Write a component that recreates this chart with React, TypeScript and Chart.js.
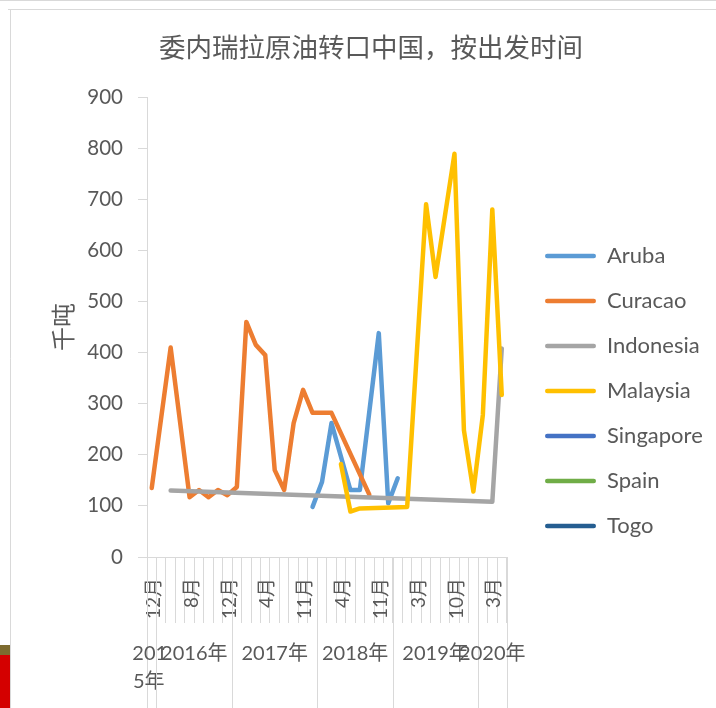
import React, { useEffect, useRef } from 'react';
import { Chart, registerables } from 'chart.js';

Chart.register(...registerables);

// ---- data ----
const months = [
  '12月',
  '4月', '6月', '7月', '8月', '9月', '10月', '11月', '12月',
  '1月', '2月', '3月', '4月', '5月', '8月', '10月', '11月', '12月',
  '2月', '3月', '4月', '6月', '7月', '9月', '11月', '12月',
  '1月', '2月', '3月', '5月', '7月', '8月', '10月', '11月', '12月',
  '2月', '3月', '4月',
];
const years = ['2015年', '2016年', '2017年', '2018年', '2019年', '2020年'];
const yearSpans = [1, 8, 9, 8, 9, 3];

const aruba = [
  null, null, null, null, null, null, null, null, null, null,
  null, null, null, null, null, null, null, 98, 147, 262,
  null, 131, 131, null, 438, 105, 154, null, null, null,
  null, null, null, null, null, null, null, null,
];
const curacao = [
  135, null, 410, null, 117, 131, 117, 131, 121, 137,
  460, 415, 395, 170, 131, 262, 327, 282, null, 282,
  null, null, null, 122, null, null, null, null, null, null,
  null, null, null, null, null, null, null, null,
];
const indonesia = [
  null, null, 130, null, null, null, null, null, null, null,
  null, null, null, null, null, null, null, null, null, null,
  null, null, null, null, null, null, null, null, null, null,
  null, null, null, null, null, null, 108, 408,
];
const malaysia = [
  null, null, null, null, null, null, null, null, null, null,
  null, null, null, null, null, null, null, null, null, null,
  182, 89, 95, null, null, null, null, 98, null, 690,
  548, null, 789, 248, 128, 278, 680, 317,
];
const singapore: (number | null)[] = [];
const spain: (number | null)[] = [];
const togo: (number | null)[] = [];

const seriesNames = ['Aruba', 'Curacao', 'Indonesia', 'Malaysia', 'Singapore', 'Spain', 'Togo'];
const seriesData = [aruba, curacao, indonesia, malaysia, singapore, spain, togo];
const seriesColors = ['#5B9BD5', '#ED7D31', '#A5A5A5', '#FFC000', '#4472C4', '#70AD47', '#255E91'];

const yMin = 0;
const yMax = 900;
const yStep = 100;

const TEXT = '#595959';
const AXIS = '#D9D9D9';
const LATIN = 'Lato, "Noto Sans CJK SC", sans-serif';
const CJK = '"Noto Sans CJK SC", sans-serif';

const LEGEND_FONT = 22;
const LEGEND_BOX = 51;
const LEGEND_PAD = 24;
const LEGEND_WIDTH = 195; // legend box left at 521 -> swatches at 545
const PLOT_LEFT = 147;
const PLOT_RIGHT = 506.5;

const decorPlugin = {
  id: 'decor',
  beforeDraw(chart: any) {
    const { ctx, width, height } = chart;
    ctx.save();
    ctx.fillStyle = '#ffffff';
    ctx.fillRect(0, 0, width, height);
    ctx.strokeStyle = AXIS;
    ctx.lineWidth = 1;
    ctx.beginPath();
    ctx.moveTo(0, 0.5);
    ctx.lineTo(width, 0.5);
    ctx.moveTo(8, 9.5);
    ctx.lineTo(width, 9.5);
    ctx.moveTo(10.5, 9.5);
    ctx.lineTo(10.5, height);
    ctx.stroke();
    ctx.fillStyle = '#7D6B2F';
    ctx.fillRect(0, 645, 10, 10);
    ctx.fillStyle = '#D40000';
    ctx.fillRect(0, 655, 10, height - 655);
    ctx.restore();
  },
};

const yearPlugin = {
  id: 'years',
  afterDraw(chart: any) {
    const { ctx, height } = chart;
    const x = chart.scales.x;
    const half = (x.getPixelForValue(1) - x.getPixelForValue(0)) / 2;
    ctx.save();
    ctx.strokeStyle = AXIS;
    ctx.lineWidth = 1;
    ctx.fillStyle = TEXT;
    ctx.font = '20px ' + LATIN;
    ctx.textAlign = 'center';
    ctx.textBaseline = 'middle';
    let start = 0;
    const top = x.top;
    yearSpans.forEach((span, k) => {
      const left = x.getPixelForValue(start) - half;
      const right = x.getPixelForValue(start + span - 1) + half;
      ctx.beginPath();
      ctx.moveTo(Math.round(left) + 0.5, top);
      ctx.lineTo(Math.round(left) + 0.5, height);
      ctx.stroke();
      if (k === yearSpans.length - 1) {
        ctx.beginPath();
        ctx.moveTo(Math.round(right) + 0.5, top);
        ctx.lineTo(Math.round(right) + 0.5, height);
        ctx.stroke();
      }
      const cx = (left + right) / 2;
      const label = years[k];
      if (span === 1) {
        ctx.fillText(label.slice(0, 3), cx - 2, 654);
        ctx.fillText(label.slice(3), cx - 3, 682);
      } else {
        ctx.fillText(label, cx, 654);
      }
      start += span;
    });
    ctx.restore();
  },
};

function legendNaturalWidth(): number {
  const c = document.createElement('canvas');
  const g = c.getContext('2d');
  if (!g) return LEGEND_WIDTH;
  g.font = `${LEGEND_FONT}px ${LATIN}`;
  let maxText = 0;
  seriesNames.forEach((n) => {
    maxText = Math.max(maxText, g.measureText(n).width);
  });
  return LEGEND_PAD + LEGEND_BOX + LEGEND_FONT / 2 + maxText + 10;
}

export default function App() {
  const ref = useRef<HTMLCanvasElement>(null);

  useEffect(() => {
    if (!ref.current) return;
    const natural = legendNaturalWidth();
    const padRight = Math.max(0, LEGEND_WIDTH - natural);
    const padLeft = 26 + padRight;
    const chart = new Chart(ref.current, {
      type: 'line',
      data: {
        labels: months,
        datasets: seriesNames.map((name, i) => ({
          label: name,
          data: seriesData[i],
          borderColor: seriesColors[i],
          backgroundColor: seriesColors[i],
          borderWidth: 4.5,
          borderCapStyle: 'round',
          borderJoinStyle: 'round',
          pointRadius: 0,
          pointHoverRadius: 0,
          spanGaps: true,
          tension: 0,
          fill: false,
          order: -i,
        })),
      },
      options: {
        animation: false,
        responsive: false,
        devicePixelRatio: 1,
        layout: { padding: { top: 10, left: padLeft, right: padRight, bottom: 0 } },
        plugins: {
          tooltip: { enabled: false },
          title: {
            display: true,
            text: '委内瑞拉原油转口中国，按出发时间',
            color: TEXT,
            font: { family: CJK, size: 26.5, weight: 'normal' },
            padding: { top: 21, bottom: 34.2 },
          },
          legend: {
            position: 'right',
            align: 'start',
            maxWidth: LEGEND_WIDTH,
            title: { display: true, text: ' ', font: { size: 10 }, padding: { top: 200, bottom: 0 } },
            labels: {
              boxWidth: LEGEND_BOX,
              boxHeight: 4.5,
              padding: LEGEND_PAD - 1,
              color: TEXT,
              font: { family: LATIN, size: LEGEND_FONT },
              useBorderRadius: true,
              borderRadius: 2.25,
              generateLabels: (c: any) =>
                c.data.datasets.map((ds: any, i: number) => ({
                  text: ds.label,
                  fillStyle: ds.borderColor,
                  strokeStyle: ds.borderColor,
                  lineWidth: 0,
                  hidden: false,
                  datasetIndex: i,
                  fontColor: TEXT,
                  borderRadius: 2.25,
                })),
            },
          },
        },
        scales: {
          x: {
            type: 'category',
            offset: true,
            grid: {
              offset: true,
              drawOnChartArea: false,
              drawTicks: true,
              tickLength: 66,
              color: AXIS,
              lineWidth: 1,
            },
            border: { display: true, color: AXIS, width: 1 },
            ticks: {
              autoSkip: false,
              minRotation: 90,
              maxRotation: 90,
              padding: -45,
              labelOffset: 2,
              color: TEXT,
              font: { family: LATIN, size: 19 },
              callback: (_v: any, i: number) => (i % 4 === 0 ? months[i] : ''),
            },
            afterFit: (s: any) => {
              s.height = 151;
            },
          },
          y: {
            min: yMin,
            max: yMax,
            ticks: {
              stepSize: yStep,
              padding: 15,
              color: TEXT,
              font: { family: LATIN, size: 20.5 },
            },
            grid: { drawOnChartArea: false, drawTicks: true, tickLength: 9, color: AXIS },
            border: { display: true, color: AXIS, width: 1 },
            title: {
              display: true,
              text: '千吨',
              color: TEXT,
              font: { family: CJK, size: 24, weight: 'normal' },
              padding: { top: 22 - padRight, bottom: 0 },
            },
            afterFit: (s: any) => {
              s.width = PLOT_LEFT - padLeft;
            },
          },
          y2: {
            position: 'right',
            display: true,
            grid: { display: false, drawTicks: false },
            border: { display: false },
            ticks: { display: false },
            afterFit: (s: any) => {
              const lw = s.chart.legend ? s.chart.legend.width : 0;
              s.width = Math.max(0, 716 - padRight - lw - PLOT_RIGHT);
            },
          },
        },
      },
      plugins: [decorPlugin, yearPlugin],
    } as any);
    return () => chart.destroy();
  }, []);

  return (
    <div style={{ position: 'absolute', left: 0, top: 0, width: 716, height: 708 }}>
      <canvas ref={ref} width={716} height={708} style={{ display: 'block' }} />
    </div>
  );
}
